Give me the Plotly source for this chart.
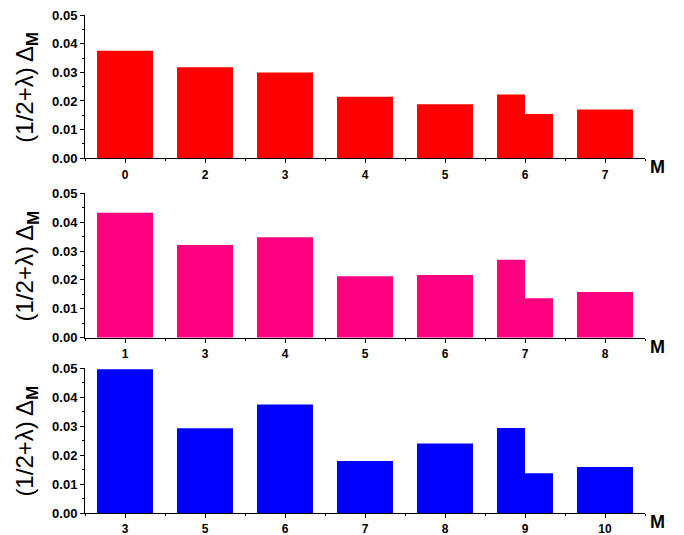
import plotly.graph_objects as go

# ---- data ----
labels_top = ["0", "2", "3", "4", "5", "6", "7"]
values_top = [0.0375, 0.0318, 0.0299, 0.0215, 0.0189, 0.0223, 0.0170]
split_top = 0.0155          # second (right-half) bar at the 6th category

labels_mid = ["1", "3", "4", "5", "6", "7", "8"]
values_mid = [0.0433, 0.0321, 0.0348, 0.0213, 0.0217, 0.0270, 0.0158]
split_mid = 0.0137

labels_bot = ["3", "5", "6", "7", "8", "9", "10"]
values_bot = [0.0497, 0.0293, 0.0375, 0.0180, 0.0240, 0.0294, 0.0159]
split_bot = 0.0137

split_index = 5
colors = ["#FF0000", "#FF0080", "#0000FF"]
y_ticks = [0.00, 0.01, 0.02, 0.03, 0.04, 0.05]

panels = [
    (labels_top, values_top, split_top),
    (labels_mid, values_mid, split_mid),
    (labels_bot, values_bot, split_bot),
]

# domains (plot area, bottom->top)
y_domains = [[0.7122, 1.0], [0.352, 0.642], [0.0, 0.2906]]

fig = go.Figure()
font_family = "Arial, Liberation Sans, sans-serif"

for i, (labels, vals, split_val) in enumerate(panels):
    n = len(labels)
    xs, ys, widths, offsets = [], [], [], []
    for k in range(n):
        if k == split_index:
            xs += [k, k]
            ys += [vals[k], split_val]
            widths += [0.35, 0.35]
            offsets += [-0.35, 0.0]
        else:
            xs.append(k)
            ys.append(vals[k])
            widths.append(0.7)
            offsets.append(-0.35)
    suffix = "" if i == 0 else str(i + 1)
    fig.add_trace(go.Bar(
        x=xs, y=ys, width=widths, offset=offsets,
        marker=dict(color=colors[i], line=dict(width=0)),
        xaxis="x" + suffix, yaxis="y" + suffix, showlegend=False,
    ))
    xa = dict(
        domain=[0, 1], anchor="y" + suffix, range=[-0.5, n - 0.5],
        tickmode="array", tickvals=list(range(n)), ticktext=labels,
        ticks="outside", ticklen=4, tickwidth=1, tickcolor="black",
        showline=True, linecolor="black", linewidth=1,
        showgrid=False, zeroline=False, automargin=False,
        tickfont=dict(family=font_family, size=12, color="black", weight="bold"),
        ticklabelstandoff=1, ticklabeloverflow="allow",
        minor=dict(tickmode="array", tickvals=[k + 0.5 for k in range(-1, n)],
                   ticks="outside", ticklen=2, tickcolor="black", showgrid=False),
    )
    ya = dict(
        domain=y_domains[i], anchor="x" + suffix, range=[0, 0.05],
        tickmode="array", tickvals=y_ticks, tickformat=".2f",
        ticks="outside", ticklen=4, tickwidth=1, tickcolor="black",
        showline=True, linecolor="black", linewidth=1,
        showgrid=False, zeroline=False, automargin=False,
        ticklabeloverflow="allow",
        tickfont=dict(family=font_family, size=13, color="black", weight="bold"),
        minor=dict(dtick=0.005, ticks="outside", ticklen=2, tickcolor="black", showgrid=False),
    )
    fig.update_layout(**{"xaxis" + suffix: xa, "yaxis" + suffix: ya})

    # y title
    fig.add_annotation(
        text="(1/2+λ) Δ<sub><b>M</b></sub>", textangle=-90,
        xref="paper", x=-0.1036, xanchor="center",
        yref="y" + suffix + " domain", y=0.5, yanchor="middle",
        showarrow=False, font=dict(family=font_family, size=24, color="black"),
    )
    # "M" axis label
    fig.add_annotation(
        text="<b>M</b>", xref="paper", x=1.023, xanchor="center",
        yref="y" + suffix + " domain", y=0, yanchor="middle", yshift=-9,
        showarrow=False, font=dict(family=font_family, size=18, color="black"),
    )

# the html page body has an 8px default margin, so the figure is shrunk by 8px
fig.update_layout(
    width=676, height=527,
    margin=dict(l=77, r=39, t=7, b=22),
    paper_bgcolor="white", plot_bgcolor="white",
    template="none",
)

fig.write_html("out.html")
